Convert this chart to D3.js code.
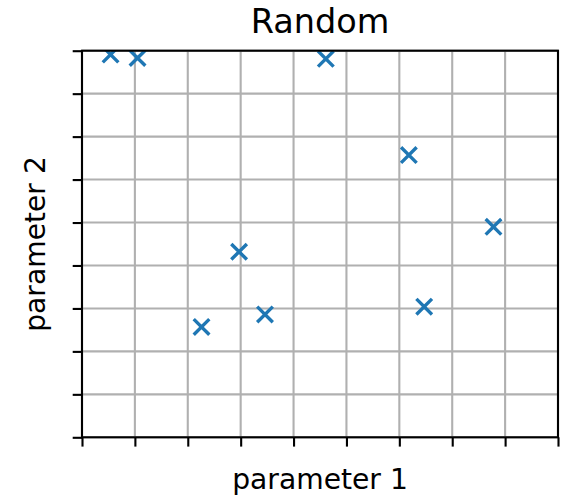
<!DOCTYPE html>
<html>
<head>
<meta charset="utf-8">
<script src="https://cdn.jsdelivr.net/npm/d3@7"></script>
<style>
  body { margin: 0; background: #fff; }
  svg text { font-family: "DejaVu Sans", sans-serif; fill: #000; }
</style>
</head>
<body>
<div id="chart"></div>
<script>
// figure size
const width = 571
const height = 497
const margin = {top: 50.7, right: 13, bottom: 59.7, left: 82}

// chart data
const xValues = [0.54, 1.05, 4.61, 6.18, 7.78, 2.97, 2.26, 3.46, 6.47];
const yValues = [8.91, 8.83, 8.81, 6.57, 4.90, 4.32, 2.57, 2.86, 3.04];
const xTicks = [0, 1, 2, 3, 4, 5, 6, 7, 8, 9];
const yTicks = [0, 1, 2, 3, 4, 5, 6, 7, 8, 9];
const titleText = 'Random';
const xLabel = 'parameter 1';
const yLabel = 'parameter 2';

const points = xValues.map((x, i) => ({x: x, y: yValues[i]}));

window.onload = function(){
	var svg = d3.select('#chart').append('svg')
		.attr('width', width)
		.attr('height', height);

	var innerW = width - margin.left - margin.right;
	var innerH = height - margin.top - margin.bottom;

	var x = d3.scaleLinear().domain([0, 9]).range([margin.left, margin.left + innerW]);
	var y = d3.scaleLinear().domain([0, 9]).range([margin.top + innerH, margin.top]);

	// clip markers to the axes box
	svg.append('defs').append('clipPath').attr('id', 'plotclip')
		.append('rect')
		.attr('x', margin.left).attr('y', margin.top)
		.attr('width', innerW).attr('height', innerH);

	// grid
	svg.append('g').attr('class', 'xgrid')
		.selectAll('line').data(xTicks).enter().append('line')
		.attr('x1', d => x(d)).attr('x2', d => x(d))
		.attr('y1', margin.top).attr('y2', margin.top + innerH)
		.attr('stroke', '#b0b0b0').attr('stroke-width', 2.1);
	svg.append('g').attr('class', 'ygrid')
		.selectAll('line').data(yTicks).enter().append('line')
		.attr('y1', d => y(d)).attr('y2', d => y(d))
		.attr('x1', margin.left).attr('x2', margin.left + innerW)
		.attr('stroke', '#b0b0b0').attr('stroke-width', 2.1);

	// markers (x shape)
	var s = 7.8;
	svg.append('g').attr('clip-path', 'url(#plotclip)')
		.selectAll('path').data(points).enter().append('path')
		.attr('d', function(d){
			var cx = x(d.x), cy = y(d.y);
			return 'M' + (cx - s) + ',' + (cy - s) + 'L' + (cx + s) + ',' + (cy + s) +
				'M' + (cx - s) + ',' + (cy + s) + 'L' + (cx + s) + ',' + (cy - s);
		})
		.attr('stroke', '#1f77b4').attr('stroke-width', 3.4).attr('fill', 'none');

	// axes, no tick labels
	var xAxis = d3.axisBottom(x).tickValues(xTicks).tickFormat('').tickSize(9.3).tickSizeOuter(0);
	var yAxis = d3.axisLeft(y).tickValues(yTicks).tickFormat('').tickSize(9.3).tickSizeOuter(0);
	var gx = svg.append('g').attr('transform', 'translate(0,' + (margin.top + innerH) + ')').call(xAxis);
	var gy = svg.append('g').attr('transform', 'translate(' + margin.left + ',0)').call(yAxis);
	[gx, gy].forEach(function(g){
		g.select('.domain').remove();
		g.selectAll('.tick line').attr('stroke', '#000').attr('stroke-width', 2.1);
	});

	// frame
	svg.append('rect')
		.attr('x', margin.left).attr('y', margin.top)
		.attr('width', innerW).attr('height', innerH)
		.attr('fill', 'none').attr('stroke', '#000').attr('stroke-width', 2.1);

	// title and labels
	var cx = margin.left + innerW / 2;
	svg.append('text').attr('x', cx).attr('y', 33)
		.attr('text-anchor', 'middle').style('font-size', '33.5px').text(titleText);
	svg.append('text').attr('x', cx).attr('y', 489)
		.attr('text-anchor', 'middle').style('font-size', '28.2px').text(xLabel);
	svg.append('text')
		.attr('transform', 'translate(45,' + (margin.top + innerH / 2) + ') rotate(-90)')
		.attr('text-anchor', 'middle').style('font-size', '28.2px').text(yLabel);
}
</script>
</body>
</html>
